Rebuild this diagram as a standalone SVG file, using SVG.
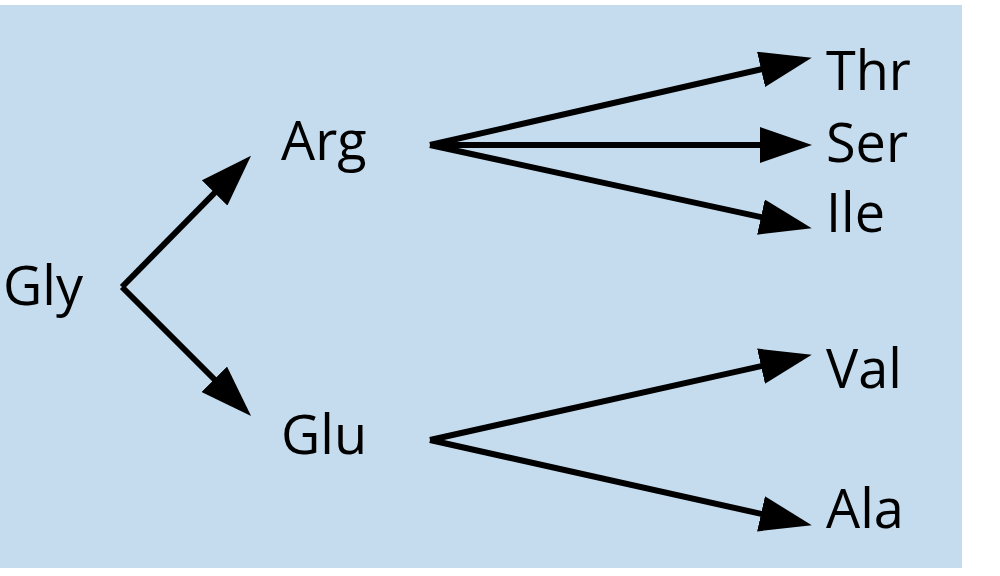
<svg xmlns="http://www.w3.org/2000/svg" width="1000" height="576" viewBox="0 0 1000 576">
<style>
text{font-family:"Open Sans","Liberation Sans",Arial,sans-serif;font-size:54px;font-weight:500;fill:#000}
.c line{stroke:#000;stroke-width:6;fill:none;marker-end:url(#ah)}
</style>
<defs>
<marker id="ah" markerUnits="userSpaceOnUse" markerWidth="52" markerHeight="36" refX="42" refY="18" orient="auto" viewBox="0 0 52 36">
<path d="M0,0 L52,18 L0,36 Z" fill="#000"/>
</marker>
</defs>
<rect x="0" y="5" width="962" height="563" fill="#c5dcee"/>
<g id="gly"><text x="3" y="305">Gly</text></g>
<g id="arg"><text x="281" y="160">Arg</text></g>
<g id="glu"><text x="281" y="454">Glu</text></g>
<g id="thr"><text x="826" y="90">Thr</text></g>
<g id="ser"><text x="826" y="162">Ser</text></g>
<g id="ile"><text x="826" y="232">Ile</text></g>
<g id="val"><text x="826" y="388">Val</text></g>
<g id="ala"><text x="826" y="528">Ala</text></g>
<g class="c" id="connectors">
<line x1="122" y1="287" x2="244" y2="163"/>
<line x1="122" y1="287" x2="244" y2="409"/>
<line x1="430" y1="145" x2="802" y2="60"/>
<line x1="430" y1="145" x2="802" y2="145"/>
<line x1="430" y1="145" x2="802" y2="226"/>
<line x1="430" y1="440" x2="802" y2="357"/>
<line x1="430" y1="440" x2="802" y2="523"/>
</g>
</svg>
